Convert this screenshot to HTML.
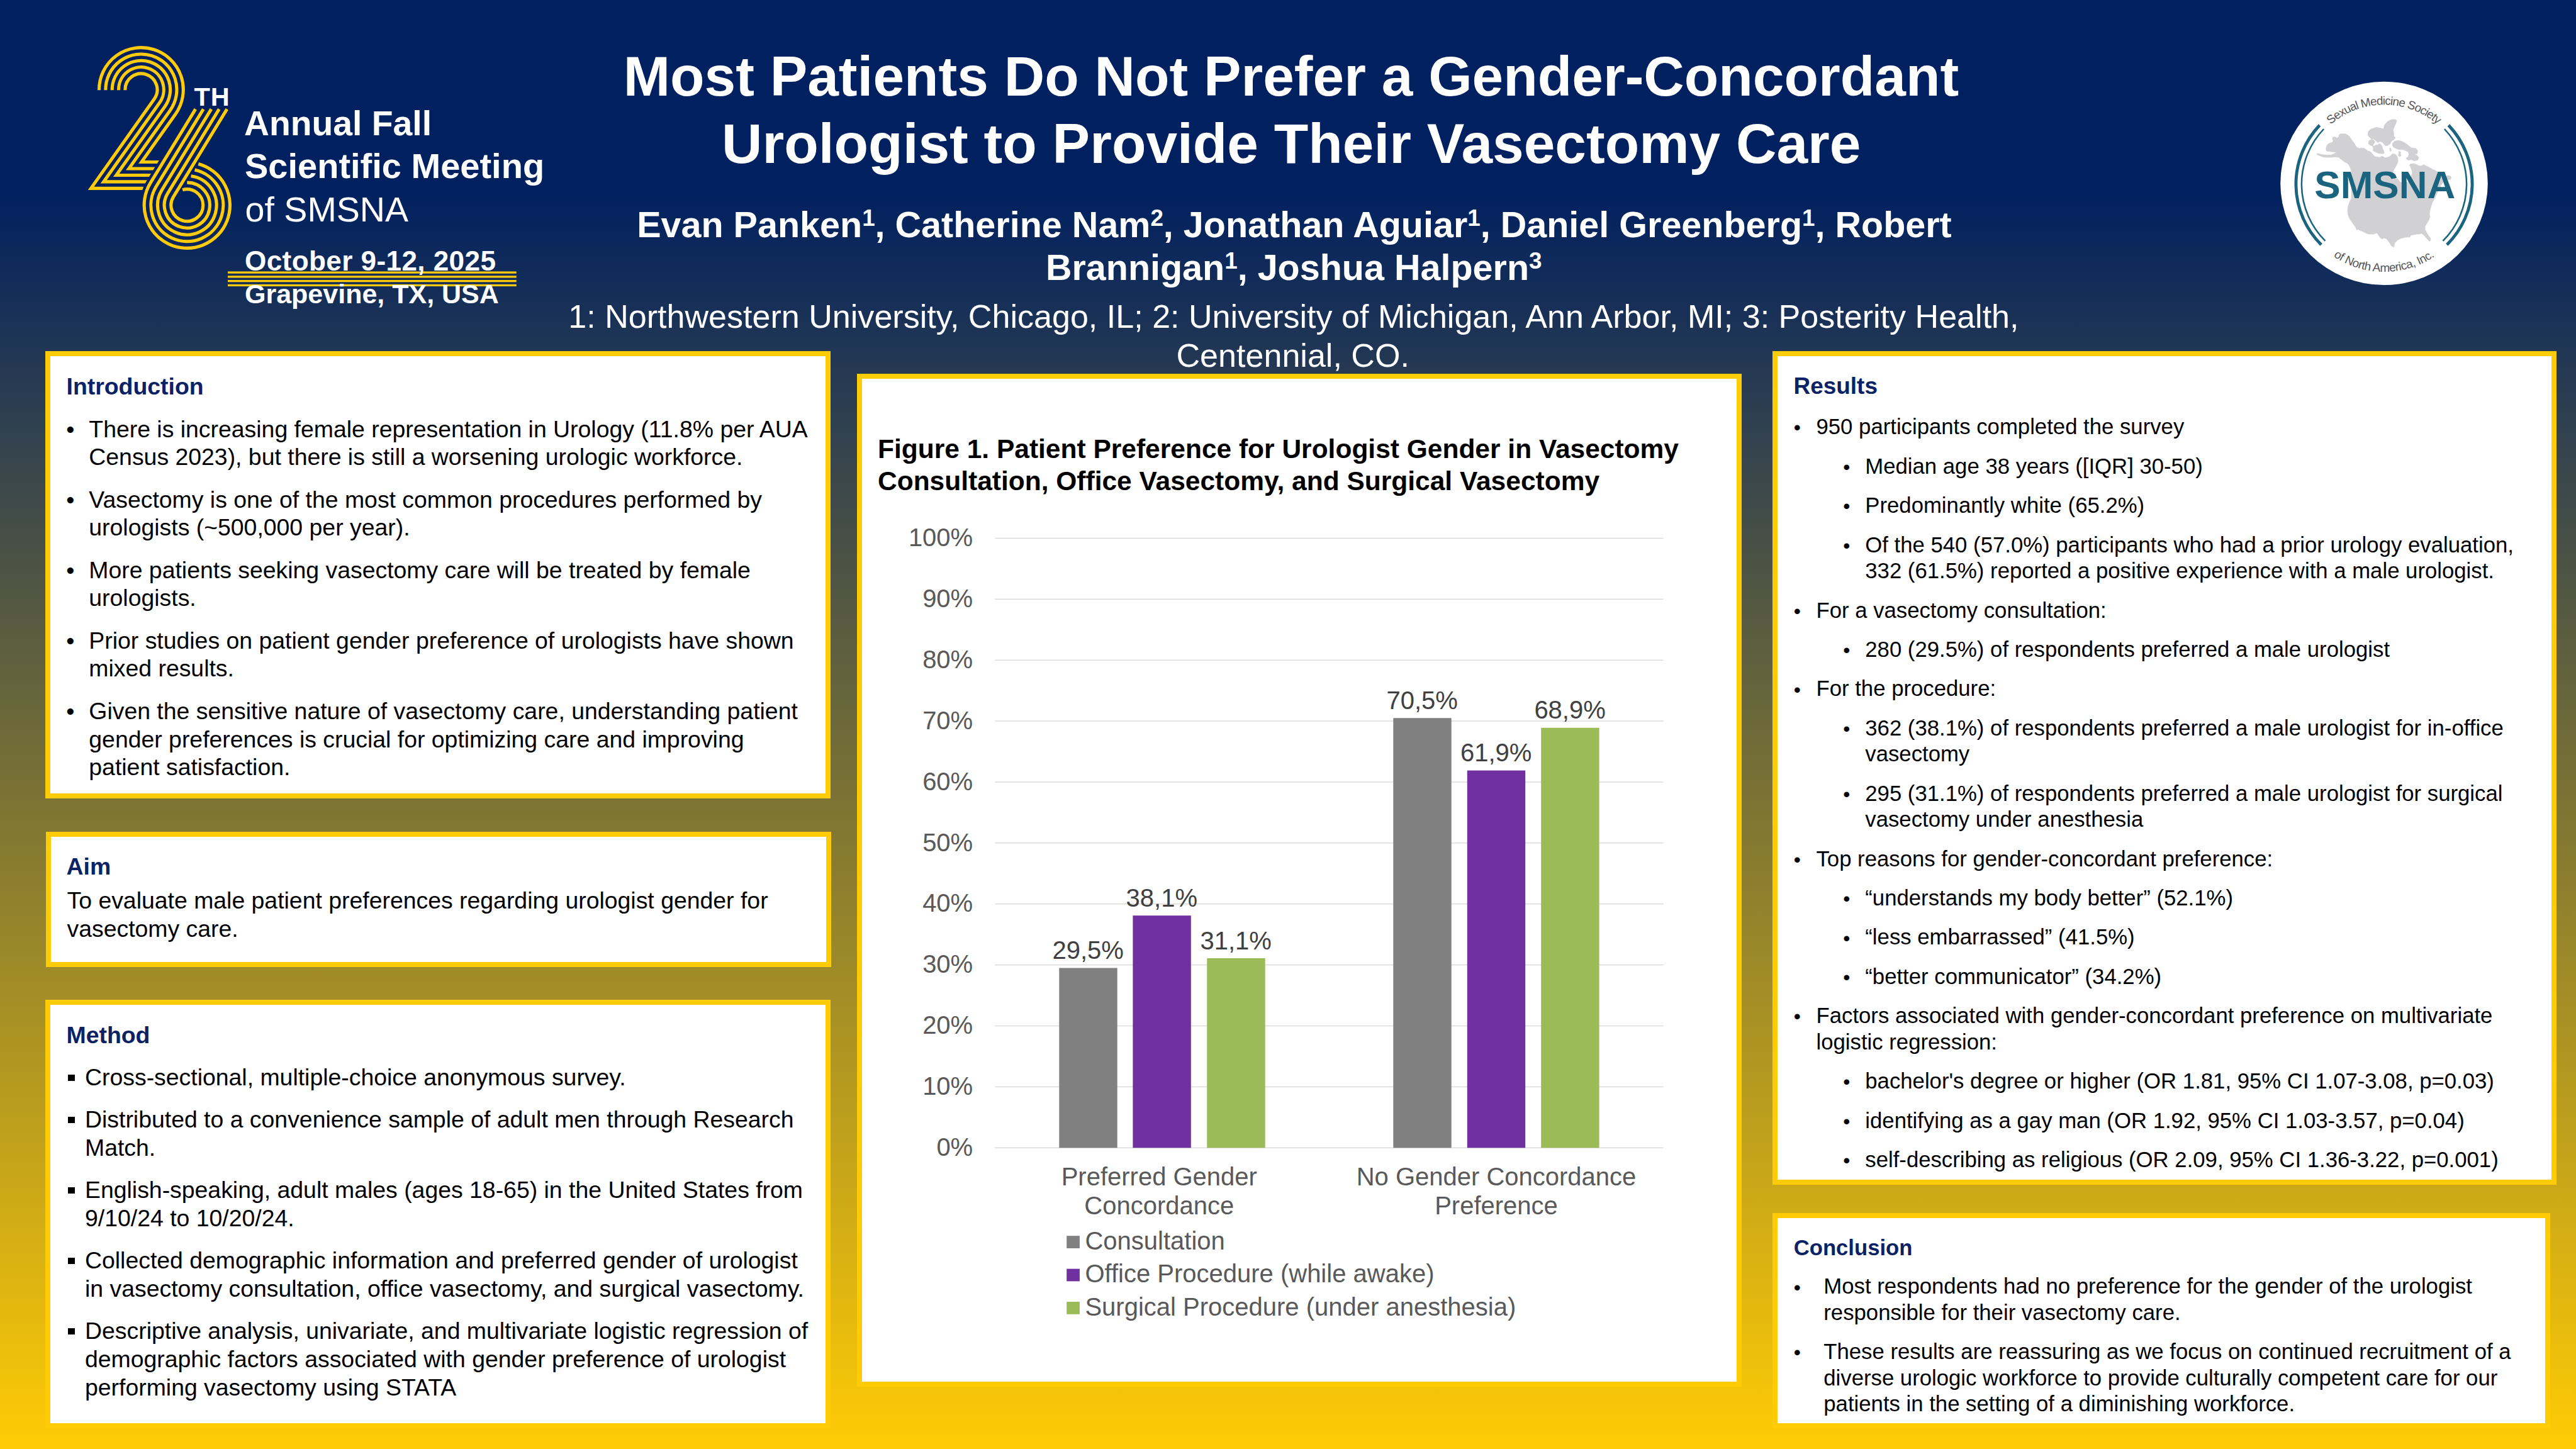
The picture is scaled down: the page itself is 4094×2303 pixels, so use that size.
<!DOCTYPE html>
<html lang="en"><head><meta charset="utf-8"><title>Poster</title>
<style>
*{margin:0;padding:0;box-sizing:border-box}
html,body{width:4094px;height:2303px;overflow:hidden}
body{position:relative;font-family:"Liberation Sans",sans-serif;background:linear-gradient(to bottom,#002060 0px,#002060 300px,#FFCB05 2300px);}
.a{position:absolute;white-space:nowrap}
.box{position:absolute;background:#fff;border:8px solid #FFCB05}
.h{font-weight:bold;color:#0B2265}
.t{color:#000}
.w{color:#fff}
sup{font-size:64%;vertical-align:baseline;position:relative;top:-0.484em;line-height:0}
.sq{position:absolute;background:#000}
</style></head>
<body>
<svg class="a" style="left:0;top:0" width="900" height="520" viewBox="0 0 900 520"><g fill="none" stroke="#FFCB0B" stroke-width="5.1" stroke-linejoin="miter" stroke-miterlimit="6"><path d="M157.50,143.30 L157.50,142.50 A66.90,66.90 0 1 1 279.00,181.16 L224.95,257.50 L259.39,257.50"/><path d="M167.85,143.30 L167.85,142.50 A56.55,56.55 0 1 1 270.55,175.18 L204.85,267.97 L253.00,267.97"/><path d="M178.20,143.30 L178.20,142.50 A46.20,46.20 0 1 1 262.11,169.20 L184.76,278.44 L246.61,278.44"/><path d="M188.55,143.30 L188.55,142.50 A35.85,35.85 0 1 1 253.66,163.22 L164.66,288.91 L240.22,288.91"/><path d="M198.90,143.30 L198.90,142.50 A25.50,25.50 0 1 1 245.21,157.24 L144.57,299.38 L234.65,299.38"/></g>
<path d="M270.07,240 L239.13,290.69 A68.15,68.15 0 0 0 231.91,307" fill="none" stroke="#002060" stroke-width="13.90"/>
<g fill="none" stroke="#FFCB0B" stroke-width="5.1"><path d="M310.73,173.40 L239.13,290.69 A68.15,68.15 0 1 0 315.35,260.48"/><path d="M323.24,173.40 L248.25,296.26 A57.47,57.47 0 1 0 309.52,270.04"/><path d="M335.75,173.40 L257.36,301.82 A46.79,46.79 0 1 0 303.54,279.83"/><path d="M348.26,173.40 L266.48,307.39 A36.11,36.11 0 1 0 297.28,290.09"/><path d="M360.78,173.40 L275.59,312.95 A25.43,25.43 0 1 0 290.13,301.80"/></g><rect x="362" y="431.4" width="458.7" height="3.3" fill="#FFCB0B"/><rect x="362" y="438.2" width="458.7" height="3.3" fill="#FFCB0B"/><rect x="362" y="445.0" width="458.7" height="3.3" fill="#FFCB0B"/><rect x="362" y="451.8" width="458.7" height="3.3" fill="#FFCB0B"/></svg>
<div class="a w" style="left:308.60px;top:130.42px;font-size:41.5px;line-height:48px;font-weight:bold;letter-spacing:0.8px;">TH</div>
<div class="a w" style="left:388.00px;top:163.84px;font-size:55.3px;line-height:64px;font-weight:bold;">Annual Fall</div>
<div class="a w" style="left:389.00px;top:231.50px;font-size:56.0px;line-height:64px;font-weight:bold;">Scientific Meeting</div>
<div class="a w" style="left:389.50px;top:300.93px;font-size:55.6px;line-height:64px;">of SMSNA</div>
<div class="a w" style="left:389.00px;top:388.72px;font-size:44.1px;line-height:52px;font-weight:bold;letter-spacing:0.4px;">October 9-12, 2025</div>
<div class="a w" style="left:389.00px;top:441.00px;font-size:43px;line-height:52px;font-weight:bold;">Grapevine, TX, USA</div>
<div class="a w" style="left:990.70px;top:67.87px;font-size:89.25px;line-height:107.4px;font-weight:bold;">Most Patients Do Not Prefer a Gender-Concordant</div>
<div class="a w" style="left:1147.10px;top:175.27px;font-size:89.25px;line-height:107.4px;font-weight:bold;">Urologist to Provide Their Vasectomy Care</div>
<div class="a w" style="left:1012.20px;top:322.88px;font-size:57.5px;line-height:68px;font-weight:bold;">Evan Panken<sup>1</sup>, Catherine Nam<sup>2</sup>, Jonathan Aguiar<sup>1</sup>, Daniel Greenberg<sup>1</sup>, Robert</div>
<div class="a w" style="left:1661.90px;top:391.28px;font-size:57.5px;line-height:68px;font-weight:bold;">Brannigan<sup>1</sup>, Joshua Halpern<sup>3</sup></div>
<div class="a w" style="left:903.30px;top:472.86px;font-size:52.07px;line-height:61px;">1: Northwestern University, Chicago, IL; 2: University of Michigan, Ann Arbor, MI; 3: Posterity Health,</div>
<div class="a w" style="left:1869.50px;top:534.86px;font-size:52.07px;line-height:61px;">Centennial, CO.</div>
<div class="box" style="left:72px;top:558px;width:1248px;height:711px"></div>
<div class="box" style="left:73px;top:1322px;width:1248px;height:215px"></div>
<div class="box" style="left:72px;top:1589px;width:1248px;height:681px"></div>
<div class="box" style="left:1362px;top:594px;width:1406px;height:1610px"></div>
<div class="box" style="left:2817px;top:558px;width:1246px;height:1325px"></div>
<div class="box" style="left:2817px;top:1928px;width:1236px;height:342px"></div>
<div class="a h" style="left:105.50px;top:591.92px;font-size:37.4px;line-height:44.25px;">Introduction</div>
<div class="a t" style="left:105.16px;top:659.92px;font-size:37.4px;line-height:44.25px;">&#8226;</div>
<div class="a t" style="left:141.30px;top:659.92px;font-size:37.4px;line-height:44.25px;">There is increasing female representation in Urology (11.8% per AUA<br>Census 2023), but there is still a worsening urologic workforce.</div>
<div class="a t" style="left:105.16px;top:772.02px;font-size:37.4px;line-height:44.25px;">&#8226;</div>
<div class="a t" style="left:141.30px;top:772.02px;font-size:37.4px;line-height:44.25px;">Vasectomy is one of the most common procedures performed by<br>urologists (~500,000 per year).</div>
<div class="a t" style="left:105.16px;top:884.12px;font-size:37.4px;line-height:44.25px;">&#8226;</div>
<div class="a t" style="left:141.30px;top:884.12px;font-size:37.4px;line-height:44.25px;">More patients seeking vasectomy care will be treated by female<br>urologists.</div>
<div class="a t" style="left:105.16px;top:996.22px;font-size:37.4px;line-height:44.25px;">&#8226;</div>
<div class="a t" style="left:141.30px;top:996.22px;font-size:37.4px;line-height:44.25px;">Prior studies on patient gender preference of urologists have shown<br>mixed results.</div>
<div class="a t" style="left:105.16px;top:1108.32px;font-size:37.4px;line-height:44.25px;">&#8226;</div>
<div class="a t" style="left:141.30px;top:1108.32px;font-size:37.4px;line-height:44.25px;">Given the sensitive nature of vasectomy care, understanding patient<br>gender preferences is crucial for optimizing care and improving<br>patient satisfaction.</div>
<div class="a h" style="left:105.50px;top:1354.92px;font-size:37.4px;line-height:44.25px;">Aim</div>
<div class="a t" style="left:106.50px;top:1409.04px;font-size:37.4px;line-height:44.8px;">To evaluate male patient preferences regarding urologist gender for<br>vasectomy care.</div>
<div class="a h" style="left:105.50px;top:1622.62px;font-size:37.4px;line-height:44.25px;">Method</div>
<div class="sq" style="left:108.40px;top:1707.70px;width:10.8px;height:10.2px"></div>
<div class="a t" style="left:135.00px;top:1690.24px;font-size:37.4px;line-height:44.8px;">Cross-sectional, multiple-choice anonymous survey.</div>
<div class="sq" style="left:108.40px;top:1774.80px;width:10.8px;height:10.2px"></div>
<div class="a t" style="left:135.00px;top:1757.34px;font-size:37.4px;line-height:44.8px;">Distributed to a convenience sample of adult men through Research<br>Match.</div>
<div class="sq" style="left:108.40px;top:1886.70px;width:10.8px;height:10.2px"></div>
<div class="a t" style="left:135.00px;top:1869.24px;font-size:37.4px;line-height:44.8px;">English-speaking, adult males (ages 18-65) in the United States from<br>9/10/24 to 10/20/24.</div>
<div class="sq" style="left:108.40px;top:1998.60px;width:10.8px;height:10.2px"></div>
<div class="a t" style="left:135.00px;top:1981.14px;font-size:37.4px;line-height:44.8px;">Collected demographic information and preferred gender of urologist<br>in vasectomy consultation, office vasectomy, and surgical vasectomy.</div>
<div class="sq" style="left:108.40px;top:2110.50px;width:10.8px;height:10.2px"></div>
<div class="a t" style="left:135.00px;top:2093.04px;font-size:37.4px;line-height:44.8px;">Descriptive analysis, univariate, and multivariate logistic regression of<br>demographic factors associated with gender preference of urologist<br>performing vasectomy using STATA</div>
<div class="a h" style="left:2850.50px;top:591.87px;font-size:36.95px;line-height:44.25px;">Results</div>
<div class="a t" style="left:2850.85px;top:659.35px;font-size:31.7px;line-height:41.33px;">&#8226;</div>
<div class="a t" style="left:2886.50px;top:658.30px;font-size:34.72px;line-height:41.33px;">950 participants completed the survey</div>
<div class="a t" style="left:2929.15px;top:721.82px;font-size:31.7px;line-height:41.33px;">&#8226;</div>
<div class="a t" style="left:2964.30px;top:720.77px;font-size:34.72px;line-height:41.33px;">Median age 38 years ([IQR] 30-50)</div>
<div class="a t" style="left:2929.15px;top:784.29px;font-size:31.7px;line-height:41.33px;">&#8226;</div>
<div class="a t" style="left:2964.30px;top:783.24px;font-size:34.72px;line-height:41.33px;">Predominantly white (65.2%)</div>
<div class="a t" style="left:2929.15px;top:846.76px;font-size:31.7px;line-height:41.33px;">&#8226;</div>
<div class="a t" style="left:2964.30px;top:845.71px;font-size:34.72px;line-height:41.33px;">Of the 540 (57.0%) participants who had a prior urology evaluation,<br>332 (61.5%) reported a positive experience with a male urologist.</div>
<div class="a t" style="left:2850.85px;top:950.56px;font-size:31.7px;line-height:41.33px;">&#8226;</div>
<div class="a t" style="left:2886.50px;top:949.51px;font-size:34.72px;line-height:41.33px;">For a vasectomy consultation:</div>
<div class="a t" style="left:2929.15px;top:1013.03px;font-size:31.7px;line-height:41.33px;">&#8226;</div>
<div class="a t" style="left:2964.30px;top:1011.98px;font-size:34.72px;line-height:41.33px;">280 (29.5%) of respondents preferred a male urologist</div>
<div class="a t" style="left:2850.85px;top:1075.50px;font-size:31.7px;line-height:41.33px;">&#8226;</div>
<div class="a t" style="left:2886.50px;top:1074.45px;font-size:34.72px;line-height:41.33px;">For the procedure:</div>
<div class="a t" style="left:2929.15px;top:1137.97px;font-size:31.7px;line-height:41.33px;">&#8226;</div>
<div class="a t" style="left:2964.30px;top:1136.92px;font-size:34.72px;line-height:41.33px;">362 (38.1%) of respondents preferred a male urologist for in-office<br>vasectomy</div>
<div class="a t" style="left:2929.15px;top:1241.77px;font-size:31.7px;line-height:41.33px;">&#8226;</div>
<div class="a t" style="left:2964.30px;top:1240.72px;font-size:34.72px;line-height:41.33px;">295 (31.1%) of respondents preferred a male urologist for surgical<br>vasectomy under anesthesia</div>
<div class="a t" style="left:2850.85px;top:1345.57px;font-size:31.7px;line-height:41.33px;">&#8226;</div>
<div class="a t" style="left:2886.50px;top:1344.52px;font-size:34.72px;line-height:41.33px;">Top reasons for gender-concordant preference:</div>
<div class="a t" style="left:2929.15px;top:1408.04px;font-size:31.7px;line-height:41.33px;">&#8226;</div>
<div class="a t" style="left:2964.30px;top:1406.99px;font-size:34.72px;line-height:41.33px;">&#8220;understands my body better&#8221; (52.1%)</div>
<div class="a t" style="left:2929.15px;top:1470.51px;font-size:31.7px;line-height:41.33px;">&#8226;</div>
<div class="a t" style="left:2964.30px;top:1469.46px;font-size:34.72px;line-height:41.33px;">&#8220;less embarrassed&#8221; (41.5%)</div>
<div class="a t" style="left:2929.15px;top:1532.98px;font-size:31.7px;line-height:41.33px;">&#8226;</div>
<div class="a t" style="left:2964.30px;top:1531.93px;font-size:34.72px;line-height:41.33px;">&#8220;better communicator&#8221; (34.2%)</div>
<div class="a t" style="left:2850.85px;top:1595.45px;font-size:31.7px;line-height:41.33px;">&#8226;</div>
<div class="a t" style="left:2886.50px;top:1594.40px;font-size:34.72px;line-height:41.33px;">Factors associated with gender-concordant preference on multivariate<br>logistic regression:</div>
<div class="a t" style="left:2929.15px;top:1699.25px;font-size:31.7px;line-height:41.33px;">&#8226;</div>
<div class="a t" style="left:2964.30px;top:1698.20px;font-size:34.72px;line-height:41.33px;">bachelor's degree or higher (OR 1.81, 95% CI 1.07-3.08, p=0.03)</div>
<div class="a t" style="left:2929.15px;top:1761.72px;font-size:31.7px;line-height:41.33px;">&#8226;</div>
<div class="a t" style="left:2964.30px;top:1760.67px;font-size:34.72px;line-height:41.33px;">identifying as a gay man (OR 1.92, 95% CI 1.03-3.57, p=0.04)</div>
<div class="a t" style="left:2929.15px;top:1824.19px;font-size:31.7px;line-height:41.33px;">&#8226;</div>
<div class="a t" style="left:2964.30px;top:1823.14px;font-size:34.72px;line-height:41.33px;">self-describing as religious (OR 2.09, 95% CI 1.36-3.22, p=0.001)</div>
<div class="a h" style="left:2850.70px;top:1960.66px;font-size:34.67px;line-height:44.25px;">Conclusion</div>
<div class="a t" style="left:2850.85px;top:2025.52px;font-size:31.7px;line-height:41.6px;">&#8226;</div>
<div class="a t" style="left:2898.30px;top:2024.47px;font-size:34.72px;line-height:41.6px;">Most respondents had no preference for the gender of the urologist<br>responsible for their vasectomy care.</div>
<div class="a t" style="left:2850.85px;top:2129.22px;font-size:31.7px;line-height:41.6px;">&#8226;</div>
<div class="a t" style="left:2898.30px;top:2128.17px;font-size:34.72px;line-height:41.6px;">These results are reassuring as we focus on continued recruitment of a<br>diverse urologic workforce to provide culturally competent care for our<br>patients in the setting of a diminishing workforce.</div>
<div class="a t" style="left:1395.00px;top:688.27px;font-size:42.5px;line-height:51px;font-weight:bold;">Figure 1. Patient Preference for Urologist Gender in Vasectomy<br>Consultation, Office Vasectomy, and Surgical Vasectomy</div>
<svg class="a" style="left:1370px;top:602px" width="1390" height="1594" viewBox="1370 602 1390 1594"><rect x="1581.2" y="1823.70" width="1062.4" height="1.2" fill="#D4D4D4"/><text x="1546.2" y="1837.00" text-anchor="end" font-size="40" fill="#595959">0%</text><rect x="1581.2" y="1726.81" width="1062.4" height="1.2" fill="#D4D4D4"/><text x="1546.2" y="1740.11" text-anchor="end" font-size="40" fill="#595959">10%</text><rect x="1581.2" y="1629.92" width="1062.4" height="1.2" fill="#D4D4D4"/><text x="1546.2" y="1643.22" text-anchor="end" font-size="40" fill="#595959">20%</text><rect x="1581.2" y="1533.03" width="1062.4" height="1.2" fill="#D4D4D4"/><text x="1546.2" y="1546.33" text-anchor="end" font-size="40" fill="#595959">30%</text><rect x="1581.2" y="1436.14" width="1062.4" height="1.2" fill="#D4D4D4"/><text x="1546.2" y="1449.44" text-anchor="end" font-size="40" fill="#595959">40%</text><rect x="1581.2" y="1339.25" width="1062.4" height="1.2" fill="#D4D4D4"/><text x="1546.2" y="1352.55" text-anchor="end" font-size="40" fill="#595959">50%</text><rect x="1581.2" y="1242.36" width="1062.4" height="1.2" fill="#D4D4D4"/><text x="1546.2" y="1255.66" text-anchor="end" font-size="40" fill="#595959">60%</text><rect x="1581.2" y="1145.47" width="1062.4" height="1.2" fill="#D4D4D4"/><text x="1546.2" y="1158.77" text-anchor="end" font-size="40" fill="#595959">70%</text><rect x="1581.2" y="1048.58" width="1062.4" height="1.2" fill="#D4D4D4"/><text x="1546.2" y="1061.88" text-anchor="end" font-size="40" fill="#595959">80%</text><rect x="1581.2" y="951.69" width="1062.4" height="1.2" fill="#D4D4D4"/><text x="1546.2" y="964.99" text-anchor="end" font-size="40" fill="#595959">90%</text><rect x="1581.2" y="854.80" width="1062.4" height="1.2" fill="#D4D4D4"/><text x="1546.2" y="868.10" text-anchor="end" font-size="40" fill="#595959">100%</text><rect x="1683.3" y="1538.47" width="92.4" height="285.83" fill="#808080"/><text x="1729.2" y="1524.17" text-anchor="middle" font-size="40" fill="#404040">29,5%</text><rect x="1800.4" y="1455.15" width="92.4" height="369.15" fill="#7030A0"/><text x="1846.3000000000002" y="1440.85" text-anchor="middle" font-size="40" fill="#404040">38,1%</text><rect x="1918.3" y="1522.97" width="92.4" height="301.33" fill="#9BBB59"/><text x="1964.2" y="1508.67" text-anchor="middle" font-size="40" fill="#404040">31,1%</text><rect x="2214.3" y="1141.23" width="92.4" height="683.07" fill="#808080"/><text x="2260.2" y="1126.93" text-anchor="middle" font-size="40" fill="#404040">70,5%</text><rect x="2331.8" y="1224.55" width="92.4" height="599.75" fill="#7030A0"/><text x="2377.7" y="1210.25" text-anchor="middle" font-size="40" fill="#404040">61,9%</text><rect x="2449.2" y="1156.73" width="92.4" height="667.57" fill="#9BBB59"/><text x="2495.0999999999995" y="1142.43" text-anchor="middle" font-size="40" fill="#404040">68,9%</text><text x="1842.3" y="1884.3" text-anchor="middle" font-size="40" fill="#595959">Preferred Gender</text><text x="1842.3" y="1929.8" text-anchor="middle" font-size="40" fill="#595959">Concordance</text><text x="2378.0" y="1884.3" text-anchor="middle" font-size="40" fill="#595959">No Gender Concordance</text><text x="2378.0" y="1929.8" text-anchor="middle" font-size="40" fill="#595959">Preference</text><rect x="1695.2" y="1964.20" width="20.7" height="19.8" fill="#808080"/><text x="1724.4" y="1986.00" font-size="40" fill="#595959">Consultation</text><rect x="1695.2" y="2016.60" width="20.7" height="19.8" fill="#7030A0"/><text x="1724.4" y="2038.40" font-size="40" fill="#595959">Office Procedure (while awake)</text><rect x="1695.2" y="2069.00" width="20.7" height="19.8" fill="#9BBB59"/><text x="1724.4" y="2090.80" font-size="40" fill="#595959">Surgical Procedure (under anesthesia)</text></svg>
<svg class="a" style="left:3600px;top:100px" width="380" height="380" viewBox="3600 100 380 380" font-family="Liberation Sans, sans-serif"><g transform="translate(3789.0,291.4) scale(1.0195,1) translate(-3789.0,-291.4)"><circle cx="3789.0" cy="291.4" r="161.65" fill="#fff"/></g><path d="M3711.9,249.4 L3705.4,249.9 L3698.0,250.1 L3689.6,248.8 L3682.1,245.2 L3682.6,243.8 L3690.5,245.7 L3698.0,246.6 L3704.5,246.3 L3710.1,244.3 L3713.8,242.0 L3705.4,241.0 L3697.5,240.1 L3696.6,235.9 L3698.0,231.7 L3699.8,228.9 L3703.5,227.3 L3707.3,226.1 L3708.2,223.3 L3706.8,220.1 L3707.7,218.0 L3711.0,217.7 L3714.7,219.6 L3717.1,217.3 L3717.5,214.0 L3720.3,212.8 L3726.8,212.8 L3731.0,214.5 L3734.3,217.3 L3737.1,221.9 L3740.8,226.6 L3743.6,231.2 L3745.5,234.0 L3749.2,235.9 L3753.9,235.4 L3757.6,235.9 L3760.4,237.8 L3763.2,240.1 L3766.9,241.0 L3769.7,243.4 L3771.6,246.2 L3774.4,248.9 L3778.1,249.4 L3781.8,250.3 L3784.6,248.5 L3787.4,248.9 L3790.2,250.8 L3793.9,250.3 L3797.6,248.9 L3800.4,246.6 L3802.3,244.3 L3804.6,244.3 L3807.9,246.2 L3810.2,249.9 L3811.2,254.5 L3810.2,259.2 L3807.9,263.9 L3805.6,267.6 L3804.2,270.8 L3802.8,274.1 L3800.9,277.8 L3802.3,280.6 L3805.1,282.5 L3807.9,284.8 L3809.8,283.9 L3815.3,289.9 L3822.8,291.8 L3830.3,287.1 L3834.0,274.1 L3832.6,269.4 L3831.2,265.7 L3829.3,262.5 L3831.2,260.6 L3835.8,260.1 L3840.5,261.5 L3844.2,263.4 L3848.0,263.9 L3851.7,261.8 L3856.3,263.9 L3861.0,266.2 L3864.7,268.5 L3869.4,270.8 L3874.0,273.2 L3878.7,275.0 L3883.4,277.8 L3887.1,280.2 L3889.9,279.2 L3893.6,279.7 L3895.9,282.0 L3894.5,284.8 L3890.8,285.7 L3888.0,284.4 L3884.3,288.1 L3879.6,293.7 L3868.0,318.0 L3865.7,321.7 L3863.8,327.3 L3861.9,333.8 L3861.0,340.3 L3861.9,345.0 L3860.1,349.6 L3857.3,354.3 L3854.0,359.9 L3854.0,364.5 L3856.3,369.2 L3859.1,373.9 L3862.4,378.5 L3862.9,382.2 L3861.0,383.6 L3858.2,380.4 L3855.4,377.6 L3852.6,373.9 L3848.9,371.1 L3844.2,372.0 L3840.5,372.0 L3836.8,372.9 L3831.2,373.9 L3830.3,376.6 L3822.8,377.1 L3815.3,379.0 L3809.8,382.2 L3806.0,386.0 L3805.1,389.7 L3804.2,393.0 L3800.4,390.6 L3798.6,386.9 L3795.8,383.2 L3793.0,379.4 L3788.3,378.0 L3786.5,379.9 L3782.7,377.6 L3780.4,373.9 L3777.1,370.1 L3772.5,372.0 L3764.1,372.0 L3759.4,370.1 L3753.9,367.3 L3747.3,364.5 L3745.5,365.5 L3743.6,360.8 L3738.9,354.3 L3734.3,347.8 L3732.0,342.2 L3731.0,333.8 L3732.0,327.3 L3734.3,320.7 L3737.1,315.2 L3737.1,273.2 L3736.2,269.4 L3734.3,263.9 L3730.6,259.2 L3725.9,257.3 L3720.3,252.7 L3716.6,249.9Z M3763.2,214.5 L3764.1,208.9 L3767.8,205.2 L3777.1,202.4 L3783.7,203.8 L3788.3,205.2 L3789.7,198.6 L3794.8,193.0 L3800.4,190.2 L3807.0,189.8 L3808.8,191.6 L3807.9,195.8 L3805.1,201.4 L3803.2,207.0 L3804.6,211.7 L3804.2,216.3 L3807.0,219.1 L3804.2,221.9 L3800.4,224.7 L3798.6,228.4 L3794.8,231.2 L3791.1,231.7 L3788.3,228.4 L3785.5,225.7 L3781.8,224.7 L3779.0,226.6 L3776.2,223.8 L3772.5,221.0 L3767.8,220.1 L3765.0,217.3Z M3764.1,228.4 L3765.0,223.8 L3768.8,221.5 L3772.5,222.4 L3774.4,225.7 L3772.5,228.4 L3770.6,232.2 L3772.0,235.9 L3771.6,239.6 L3775.3,241.5 L3779.9,243.4 L3785.5,244.3 L3789.3,243.4 L3788.3,239.6 L3786.5,235.9 L3785.5,232.2 L3783.7,229.4 L3780.9,228.4 L3779.0,230.8 L3776.2,230.3 L3773.4,232.2 L3769.7,231.7 L3766.9,230.8Z M3802.3,228.4 L3805.1,224.7 L3811.6,223.3 L3817.2,224.7 L3822.8,227.5 L3827.5,231.2 L3832.1,235.0 L3839.6,235.9 L3842.4,239.6 L3841.4,244.3 L3837.7,245.2 L3841.4,247.1 L3844.2,250.8 L3842.4,254.5 L3836.8,255.5 L3832.1,253.6 L3828.4,254.5 L3825.6,253.6 L3823.7,251.7 L3827.5,248.9 L3828.4,245.2 L3827.5,241.5 L3823.7,239.6 L3819.1,237.8 L3813.5,237.8 L3807.9,235.9 L3804.2,234.0 L3802.3,231.2Z M3797.6,235.9 L3799.5,235.0 L3800.4,239.6 L3798.6,240.6Z M3812.6,240.6 L3815.3,241.5 L3814.9,245.2 L3816.3,247.1 L3813.5,248.9 L3811.6,247.1 L3812.1,244.3Z" fill="#D1D1D4" stroke="#D1D1D4" stroke-width="0.8" stroke-linejoin="round"/><g transform="translate(3789.0,291.4) scale(1.0195,1) translate(-3789.0,-291.4)"><path d="M3691.00,389.00 A137.4,137.4 0 0 1 3688.51,198.99" fill="none" stroke="#1B6480" stroke-width="4.8"/><path d="M3697.28,382.84 A128.6,128.6 0 0 1 3694.95,205.00" fill="none" stroke="#1B6480" stroke-width="2.5"/><path d="M3889.49,198.99 A137.4,137.4 0 0 1 3887.00,389.00" fill="none" stroke="#1B6480" stroke-width="4.8"/><path d="M3883.05,205.00 A128.6,128.6 0 0 1 3880.72,382.84" fill="none" stroke="#1B6480" stroke-width="2.5"/><path id="tp1" d="M3663.8,291.4 A125.2,125.2 0 0 1 3914.2,291.4" fill="none"/><text font-size="18.6" fill="#555557"><textPath href="#tp1" startOffset="50%" text-anchor="middle" textLength="182" lengthAdjust="spacing">Sexual Medicine Society</textPath></text><path id="tp2" d="M3648.5,291.4 A140.5,140.5 0 0 0 3929.5,291.4" fill="none"/><text font-size="18.6" fill="#555557"><textPath href="#tp2" startOffset="50%" text-anchor="middle" textLength="168" lengthAdjust="spacing">of North America, Inc.</textPath></text></g><text x="3790.3" y="315.2" text-anchor="middle" font-size="62" font-weight="bold" fill="#1B6480">SMSNA</text></svg>
</body></html>
